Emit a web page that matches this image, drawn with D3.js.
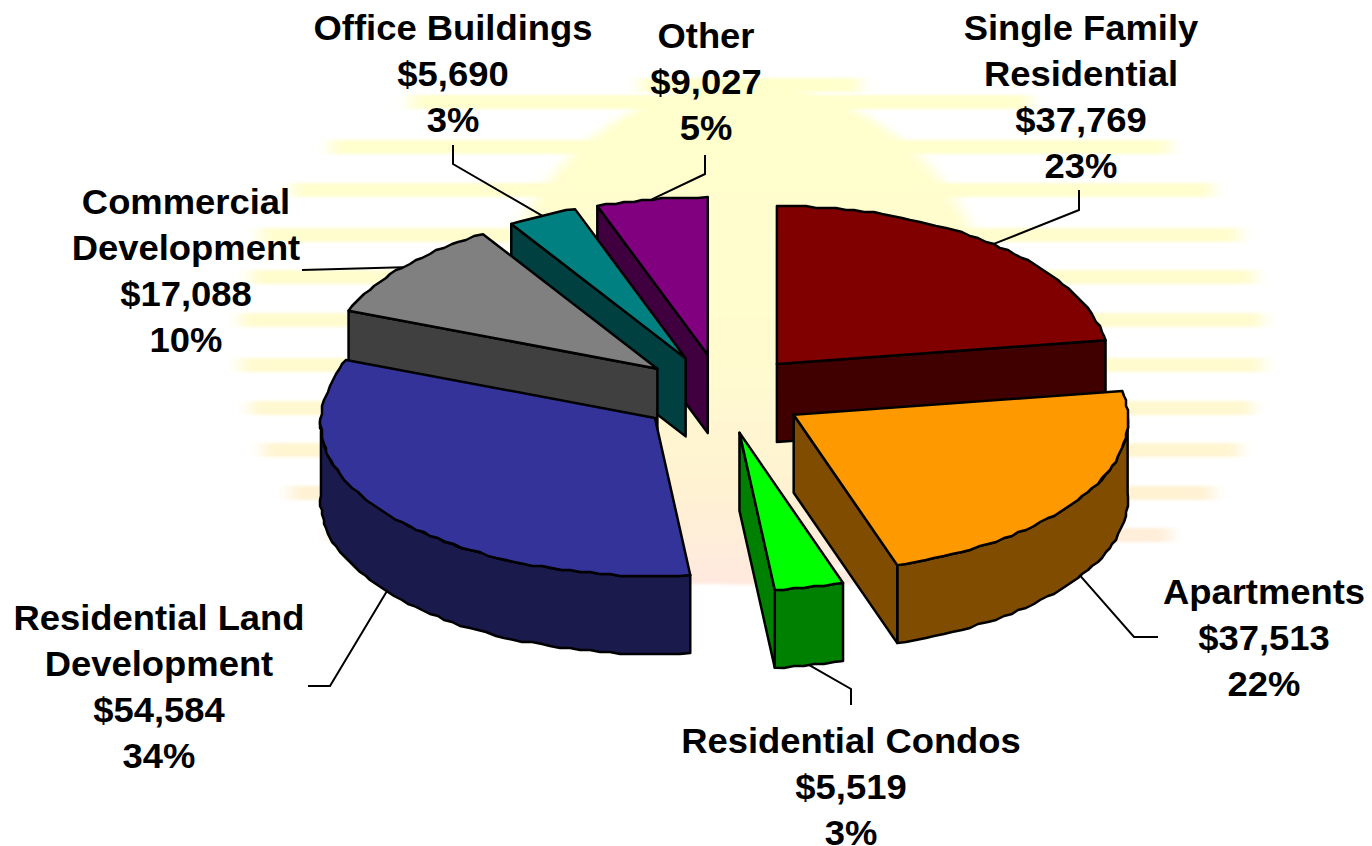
<!DOCTYPE html>
<html>
<head>
<meta charset="utf-8">
<style>
    html, body { margin: 0; padding: 0; background: #fff; }
    svg { display: block; }
    text { font-family: "Liberation Sans", Arial, sans-serif; font-weight: bold; font-size: 35px; fill: #000; text-anchor: middle; }
</style>
<script src="https://cdnjs.cloudflare.com/ajax/libs/d3/7.8.5/d3.min.js"></script>
</head>
<body>
<script>
var categories = [
    ['Single Family', 'Residential'],
    ['Apartments'],
    ['Residential Condos'],
    ['Residential Land', 'Development'],
    ['Commercial', 'Development'],
    ['Office Buildings'],
    ['Other']
];
var amounts = [37769, 37513, 5519, 54584, 17088, 5690, 9027];
var percents = ['23%', '22%', '3%', '34%', '10%', '3%', '5%'];

var topColors = ['#800000', '#FF9900', '#00FF00', '#333399', '#808080', '#008080', '#800080'];
var sideColors = ['#400000', '#804D00', '#008000', '#1A1A4D', '#404040', '#004040', '#400040'];
var drawOrder = [6, 5, 4, 0, 3, 1, 2];

// label centre x, first baseline y
var labelX = [1081, 1264, 851, 159, 186, 453, 706];
var labelY = [40, 604, 753, 630, 214, 40, 48];
// elbow of each leader, then where it ends
var elbowX = [1079, 1134, 851, 330, 302, 453, 705];
var elbowY = [210, 637, 689, 686, 270, 164, 174];
var endX = [1079, 1158, 851, 308, 302, 453, 705];
var endY = [190, 637, 705, 686, 270, 145, 155];

// background sun: solid disc plus horizontal streaks
var bandY = [85, 102, 147, 190, 235, 277, 320, 365, 408, 450, 493, 535, 577];
var bandLeft = [640, 410, 330, 292, 260, 250, 240, 240, 250, 262, 290, 330, 640];
var bandRight = [860, 1030, 1170, 1213, 1240, 1255, 1263, 1263, 1253, 1240, 1213, 1170, 860];

var width = 1372, height = 846,
    cx = 722, cy = 394,
    rx = 337, ry = 158,
    depth = 78,
    explode = 0.25,
    lineHeight = 46,
    textStretch = 1.04;

var svg = d3.select('body').append('svg').attr('width', width).attr('height', height);
var defs = svg.append('defs');

var sunGrad = defs.append('linearGradient').attr('id', 'sun')
    .attr('gradientUnits', 'userSpaceOnUse')
    .attr('x1', 0).attr('y1', 80).attr('x2', 0).attr('y2', 590);
sunGrad.append('stop').attr('offset', '0').attr('stop-color', '#FFFFCC');
sunGrad.append('stop').attr('offset', '0.55').attr('stop-color', '#FFFBCF');
sunGrad.append('stop').attr('offset', '0.8').attr('stop-color', '#FFF2D2');
sunGrad.append('stop').attr('offset', '1').attr('stop-color', '#FFE8E0');

var blur = defs.append('filter').attr('id', 'soft')
    .attr('x', '-5%').attr('y', '-5%').attr('width', '110%').attr('height', '110%');
blur.append('feGaussianBlur').attr('stdDeviation', '8 1.5');

var sun = svg.append('g').attr('filter', 'url(#soft)').attr('fill', 'url(#sun)');
sun.append('ellipse').attr('cx', 745).attr('cy', 335).attr('rx', 250).attr('ry', 250);
sun.selectAll('rect').data(bandY).enter().append('rect')
    .attr('x', function (d, i) { return bandLeft[i]; })
    .attr('y', function (d) { return d - 7; })
    .attr('width', function (d, i) { return bandRight[i] - bandLeft[i]; })
    .attr('height', 14);

var x = d3.scaleLinear().domain([-1, 1]).range([cx - rx, cx + rx]);
var y = d3.scaleLinear().domain([-1, 1]).range([cy - ry, cy + ry]);

var pie = d3.pie().sort(null).value(function (d) { return d; });
var slices = pie(amounts);

// the far half of the pie reads a bit narrower, the original has some perspective
function narrow(angle) {
    return 1 - 0.015 * Math.min(1, Math.max(0, (Math.cos(angle) + 0.3) / 0.5));
}

// position on the pie top for an angle clockwise from 12 o'clock, r in unit circle
function px(slice, angle, r) {
    var mid = (slice.startAngle + slice.endAngle) / 2;
    return x(explode * Math.sin(mid) + r * narrow(angle) * Math.sin(angle));
}
function py(slice, angle, r) {
    var mid = (slice.startAngle + slice.endAngle) / 2;
    return y(-explode * Math.cos(mid) - r * Math.cos(angle));
}

var line = d3.line();

// the rim is a little stepped, like the low res original
function arcPoints(slice, a0, a1, drop) {
    var n = Math.max(2, Math.ceil((a1 - a0) / 0.03)), pts = [];
    d3.range(n + 1).forEach(function (i) {
        var a = a0 + (a1 - a0) * i / n,
            xx = px(slice, a, 1),
            yy = py(slice, a, 1) + drop;
        pts.push(i === 0 || i === n ? [xx, yy] : [Math.round(xx / 2) * 2, Math.round(yy / 2) * 2]);
    });
    return pts;
}

function apex(slice, drop) {
    return [px(slice, 0, 0), py(slice, 0, 0) + drop];
}

function drawSlice(g, slice, i) {
    var a0 = slice.startAngle, a1 = slice.endAngle;

    // outer wall, only the part facing the viewer
    var f0 = Math.max(a0, Math.PI / 2), f1 = Math.min(a1, Math.PI * 1.5);
    if (f1 > f0) {
        var rim = arcPoints(slice, f0, f1, 0).concat(arcPoints(slice, f0, f1, depth).reverse());
        g.append('path').attr('d', line(rim) + 'Z').attr('fill', sideColors[i]);
    }

    // cut walls
    [a0, a1].forEach(function (a, k) {
        var visible = k === 0 ? Math.sin(a) < -1e-6 : Math.sin(a) > 1e-6;
        if (!visible) return;
        var pts = [apex(slice, 0), [px(slice, a, 1), py(slice, a, 1)],
            [px(slice, a, 1), py(slice, a, 1) + depth], apex(slice, depth)];
        g.append('path').attr('d', line(pts) + 'Z').attr('fill', sideColors[i]);
    });

    // top face
    var top = [apex(slice, 0)].concat(arcPoints(slice, a0, a1, 0));
    g.append('path').attr('d', line(top) + 'Z').attr('fill', topColors[i]);
}

var pieGroup = svg.append('g')
    .attr('stroke', '#000').attr('stroke-width', 2.5).attr('stroke-linejoin', 'round');
drawOrder.forEach(function (i) {
    drawSlice(pieGroup.append('g'), slices[i], i);
});

// leader lines start on the rim at the middle of the slice
var leaders = svg.append('g').attr('fill', 'none').attr('stroke', '#000').attr('stroke-width', 2);
slices.forEach(function (slice, i) {
    var mid = (slice.startAngle + slice.endAngle) / 2,
        onFront = Math.cos(mid) < 0,
        start = [px(slice, mid, 1), py(slice, mid, 1) + (onFront ? depth : 0)];
    leaders.append('path').attr('d', line([start, [elbowX[i], elbowY[i]], [endX[i], endY[i]]]));
});

var money = d3.format('$,');
categories.forEach(function (names, i) {
    var lines = names.concat([money(amounts[i]), percents[i]]);
    var t = svg.append('g');
    lines.forEach(function (s, k) {
        t.append('text')
            .attr('transform', 'translate(' + labelX[i] + ',' + (labelY[i] + k * lineHeight) + ') scale(' + textStretch + ',1)')
            .text(s);
    });
});
</script>
</body>
</html>
